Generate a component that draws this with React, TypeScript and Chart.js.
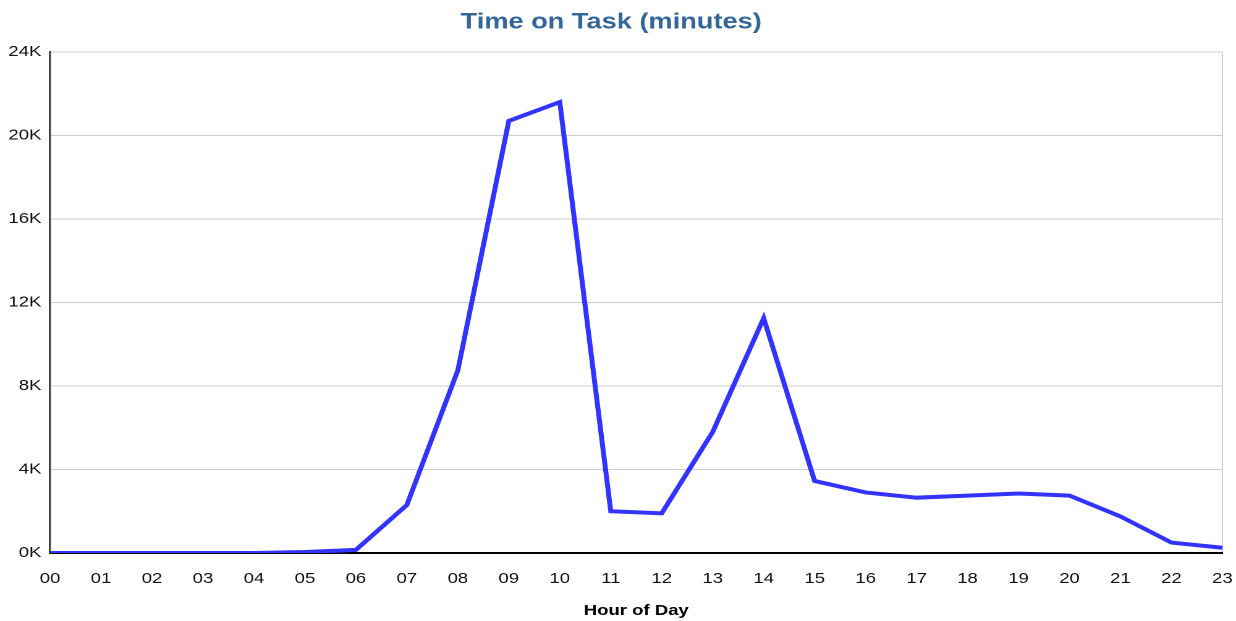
import React, { useEffect, useRef } from "react";
import { Chart, registerables } from "chart.js";

Chart.register(...registerables);

const hours = ["00","01","02","03","04","05","06","07","08","09","10","11","12","13","14","15","16","17","18","19","20","21","22","23"];
const minutes = [0, 0, 0, 0, 0, 50, 150, 2300, 8750, 20700, 21600, 2000, 1900, 5800, 11250, 3450, 2900, 2650, 2750, 2850, 2750, 1750, 500, 250];
const yTicks = [0, 4000, 8000, 12000, 16000, 20000, 24000];

const STRETCH = 1.236;
const INNER_W = 1000;
const H = 621;

export default function App() {
  const ref = useRef<HTMLCanvasElement>(null);
  useEffect(() => {
    const font = "'Liberation Sans', Arial, sans-serif";
    const chart = new Chart(ref.current!, {
      type: "line",
      data: {
        labels: hours,
        datasets: [{
          data: minutes,
          borderColor: "#3333ff",
          borderWidth: 4,
          pointRadius: 0,
          tension: 0,
          fill: false,
        }],
      },
      options: {
        animation: false,
        responsive: false,
        maintainAspectRatio: false,
        devicePixelRatio: 2,
        layout: { padding: { left: 0, right: 11, top: 0, bottom: 0 } },
        plugins: {
          legend: { display: false },
          tooltip: { enabled: false },
          title: {
            display: true,
            text: "Time on Task (minutes)",
            color: "#336699",
            font: { family: font, size: 22, weight: "bold" },
            padding: { top: 9, bottom: 16.6 },
          },
        },
        scales: {
          x: {
            type: "category",
            offset: false,
            grid: {
              display: true,
              drawTicks: false,
              color: (ctx: any) => (ctx.index === hours.length - 1 ? "#cccccc" : "rgba(0,0,0,0)"),
            },
            border: { display: true, color: "#000000", width: 2 },
            ticks: {
              color: "#111",
              font: { family: font, size: 15 },
              padding: 17,
              maxRotation: 0,
              autoSkip: false,
            },
            title: {
              display: true,
              text: "Hour of Day",
              color: "#000",
              font: { family: font, size: 15, weight: "bold" },
              padding: { top: 6, bottom: 1 },
            },
            afterFit: (s: any) => { s.height = 68; s.paddingRight = 0; s.paddingLeft = 0; },
          },
          y: {
            min: 0,
            max: 24000,
            afterBuildTicks: (s: any) => { s.ticks = yTicks.map((v) => ({ value: v })); },
            grid: { color: "#cccccc", drawTicks: false },
            border: { display: true, color: "#444444", width: 1.7 },
            ticks: {
              color: "#111",
              font: { family: font, size: 15 },
              padding: 7,
              callback: (v: any) => `${Number(v) / 1000}K`,
            },
            afterFit: (s: any) => { s.width = 40.5; s.paddingTop = 0; s.paddingBottom = 0; },
          },
        },
      },
    });
    return () => chart.destroy();
  }, []);
  return (
    <div style={{ position: "fixed", left: 0, top: 0, width: 1236, height: H, overflow: "hidden", background: "#fff" }}>
      <div style={{ width: INNER_W, height: H, transform: `scaleX(${STRETCH})`, transformOrigin: "0 0" }}>
        <canvas ref={ref} width={INNER_W} height={H} />
      </div>
    </div>
  );
}
